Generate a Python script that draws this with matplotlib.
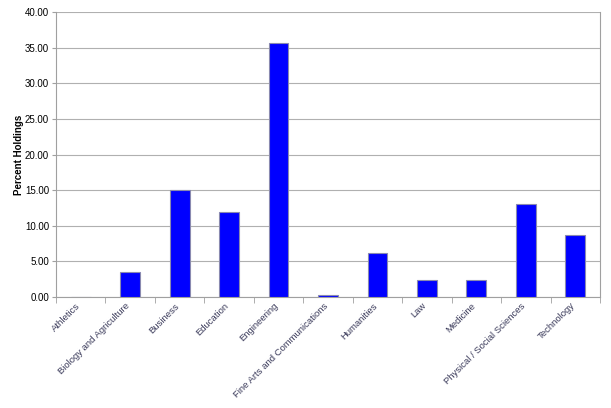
import numpy as np
import matplotlib.pyplot as plt

# values
categories = ['Athletics', 'Biology and Agriculture', 'Business', 'Education',
              'Engineering', 'Fine Arts and Communications', 'Humanities',
              'Law', 'Medicine', 'Physical / Social Sciences', 'Technology']
percent_holdings = [0.05, 3.5, 15.0, 11.95, 35.6, 0.35, 6.2, 2.4, 2.4, 13.1, 8.65]
y_ticks = [0, 5, 10, 15, 20, 25, 30, 35, 40]

plt.rcParams['font.family'] = ['Liberation Sans', 'DejaVu Sans']

fig = plt.figure(figsize=(6.11, 4.08), dpi=100)
ax = fig.add_axes([0.0917, 0.272, 0.8903, 0.6986])

x = np.arange(len(categories))
ax.bar(x, percent_holdings, width=0.4, color='#0000ff', edgecolor='#8a8ab0',
       linewidth=0.8, zorder=3)

ax.set_xlim(-0.5, len(categories) - 0.5)
ax.set_ylim(0, 40)
ax.set_yticks(y_ticks)
ax.set_yticklabels([f'{v:.2f}' for v in y_ticks], fontsize=7, color='#000000')
ax.yaxis.grid(True, color='#b0b0b0', linewidth=0.8, zorder=0)

# category labels at bar centres, tick marks on the category boundaries
ax.set_xticks(x - 0.1)
ax.set_xticklabels(categories, rotation=45, ha='right', rotation_mode='anchor',
                   fontsize=6.8, color='#3a3a5a')
ax.tick_params(axis='x', which='major', length=0, pad=3)
ax.set_xticks(np.arange(-0.5, len(categories)), minor=True)
ax.tick_params(axis='x', which='minor', length=4, color='#a0a0a0')
ax.tick_params(axis='y', length=3, color='#a0a0a0', pad=2)

for side in ['left', 'bottom', 'right']:
    ax.spines[side].set_color('#a0a0a0')
ax.spines['top'].set_visible(False)

ax.set_ylabel('Percent Holdings', fontsize=7, fontweight='bold')
ax.yaxis.set_label_coords(-0.058, 0.5)

fig.savefig('out.png', dpi=100)
